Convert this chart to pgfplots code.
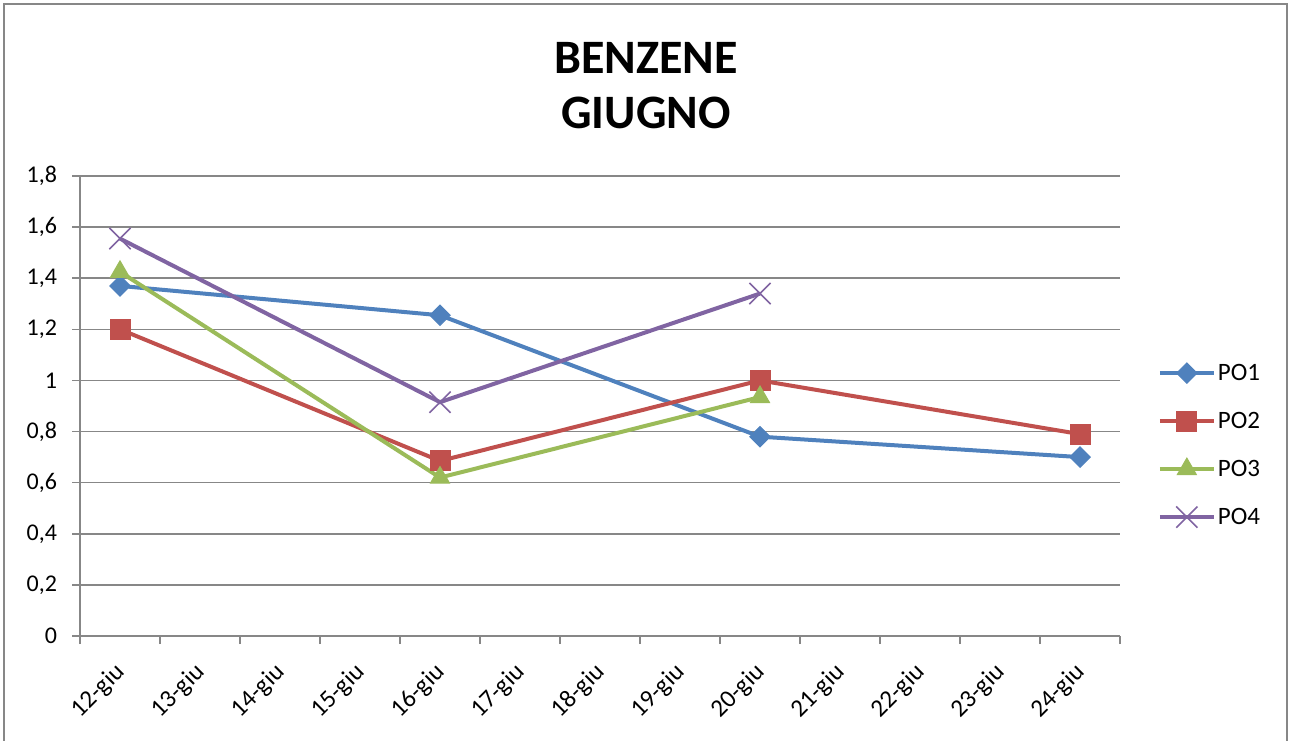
\documentclass[border=0pt]{standalone}
\usepackage{pgfplots}
\pgfplotsset{compat=1.18}
\usepackage{fontspec}
\setmainfont{Carlito}
\definecolor{cblue}{HTML}{4F81BD}
\definecolor{cred}{HTML}{C0504D}
\definecolor{cgreen}{HTML}{9BBB59}
\definecolor{cpurple}{HTML}{8064A2}
\definecolor{gridc}{HTML}{878787}
\begin{document}
\begin{tikzpicture}
\path[use as bounding box] (0,0) rectangle (645pt,370pt);
\draw[gridc, line width=1pt] (2pt,-5pt) rectangle (643.5pt,368pt);
\node[font=\fontsize{24}{27.5}\selectfont\bfseries, align=center] at (323pt,327pt) {BENZENE\\GIUGNO};
\begin{axis}[
  at={(40pt,52pt)}, anchor=south west,
  scale only axis, width=520pt, height=230pt,
  xmin=-0.5, xmax=12.5, ymin=0, ymax=1.8,
  axis x line*=bottom, axis y line*=left,
  axis line style={gridc, line width=0.8pt, -},
  xtick={0,...,12},
  xticklabels={12-giu,13-giu,14-giu,15-giu,16-giu,17-giu,18-giu,19-giu,20-giu,21-giu,22-giu,23-giu,24-giu},
  minor xtick={-0.5,0.5,...,12.5},
  major x tick style={draw=none},
  minor x tick style={gridc, line width=0.8pt},
  tick align=outside,
  minor tick length=4pt,
  major tick length=4pt,
  ytick={0,0.2,...,1.8},
  y tick style={gridc, line width=0.8pt},
  ymajorgrids, grid style={gridc, line width=0.8pt},
  /pgf/number format/use comma,
  /pgf/number format/fixed,
  /pgf/number format/precision=1,
  /pgf/number format/assume math mode=true,
  yticklabel style={font=\fontsize{12}{14}\selectfont, xshift=-4pt},
  xticklabel style={font=\fontsize{12.5}{14}\selectfont, rotate=45, anchor=east, xshift=-4.9pt, yshift=-9.2pt},
  legend style={at={(1.036,0.415)}, anchor=west, draw=none, fill=none, inner sep=0pt,
    font=\fontsize{12.5}{14}\selectfont, row sep=12pt,
    nodes={inner sep=1pt, text height=8.5pt, text depth=1.5pt}},
  legend cell align=left,
  legend image code/.code={\draw[mark repeat=2,mark phase=2] plot coordinates {(0pt,0pt)(13.5pt,0pt)(27pt,0pt)};},
  every axis plot/.append style={line width=2pt},
]
\addplot[cblue, mark=square*, mark size=3.6pt, mark options={rotate=45, line width=0.5pt}] coordinates {(0,1.37) (4,1.255) (8,0.78) (12,0.70)};
\addlegendentry{PO1}
\addplot[cred, mark=square*, mark size=5pt, mark options={line width=0.5pt}] coordinates {(0,1.20) (4,0.685) (8,1.0) (12,0.79)};
\addlegendentry{PO2}
\addplot[cgreen, mark=triangle*, mark size=5.5pt, mark options={line width=0.5pt}] coordinates {(0,1.425) (4,0.62) (8,0.935)};
\addlegendentry{PO3}
\addplot[cpurple, mark=x, mark size=7.5pt, mark options={line width=0.8pt}] coordinates {(0,1.555) (4,0.915) (8,1.34)};
\addlegendentry{PO4}
\end{axis}
\end{tikzpicture}
\end{document}
